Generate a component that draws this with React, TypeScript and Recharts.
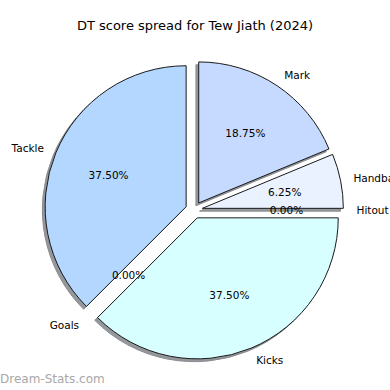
import React from "react";
import { PieChart, Pie, Cell } from "recharts";

const categories = ["Mark", "Handball", "Hitout", "Kicks", "Goals", "Tackle"];
const counts = [3, 1, 0, 6, 0, 6];
const colors = ["#c6d9ff", "#eaf2ff", "#dde9ff", "#d8ffff", "#c0dcff", "#b3d7ff"];

const data = categories.map((name, i) => ({ name, value: counts[i] }));

const CX = 194;
const CY = 210;
const R = 141;
const EXPLODE = 8.5;
const SHADOW = 2.8;
const RAD = Math.PI / 180;
const FONT = "'DejaVu Sans', sans-serif";

const total = counts.reduce((a, b) => a + b, 0);

// mid angle of each slice, clockwise from the top
const midAngles = counts.map((v, i) => {
  const before = counts.slice(0, i).reduce((a, b) => a + b, 0);
  return 90 - (360 * (before + v / 2)) / total;
});

const offsetFor = (i: number) => ({
  dx: EXPLODE * Math.cos(midAngles[i] * RAD),
  dy: -EXPLODE * Math.sin(midAngles[i] * RAD),
});

const renderLabel = (slice: number) => (props: any) => {
  if (props.index !== slice) return <g />;
  const { cx, cy, midAngle, percent, name } = props;
  const c = Math.cos(midAngle * RAD);
  const s = -Math.sin(midAngle * RAD);
  const lx = cx + 140 * 1.1 * c;
  const ly = cy + 140 * 1.1 * s;
  const px = cx + 140 * 0.6 * c;
  const py = cy + 140 * 0.6 * s;
  return (
    <g>
      <text
        x={lx}
        y={ly}
        textAnchor={c >= 0 ? "start" : "end"}
        dominantBaseline="central"
        fontSize={10.5}
        fontFamily={FONT}
        fill="#000"
      >
        {name}
      </text>
      <text
        x={px}
        y={py}
        textAnchor="middle"
        dominantBaseline="central"
        fontSize={10.5}
        fontFamily={FONT}
        fill="#000"
      >
        {(percent * 100).toFixed(2)}%
      </text>
    </g>
  );
};

export default function App() {
  return (
    <div style={{ position: "absolute", left: 0, top: 0, width: 390, height: 390, background: "#fff" }}>
      <div
        style={{
          position: "absolute",
          top: 18,
          width: 390,
          textAlign: "center",
          fontFamily: FONT,
          fontSize: 13,
          color: "#000",
        }}
      >
        DT score spread for Tew Jiath (2024)
      </div>
      <PieChart width={390} height={390} margin={{ top: 0, right: 0, bottom: 0, left: 0 }}>
        {categories.map((cat, i) => {
          const { dx, dy } = offsetFor(i);
          return (
            <Pie
              key={"shadow-" + cat}
              data={data}
              dataKey="value"
              nameKey="name"
              cx={CX + dx - SHADOW}
              cy={CY + dy + SHADOW}
              outerRadius={R}
              startAngle={90}
              endAngle={-270}
              isAnimationActive={false}
              labelLine={false}
            >
              {data.map((d, j) => (
                <Cell
                  key={d.name}
                  fill={j === i ? "#94979c" : "none"}
                  stroke={j === i ? "#8a8c90" : "none"}
                  strokeWidth={1}
                />
              ))}
            </Pie>
          );
        })}
        {categories.map((cat, i) => {
          const { dx, dy } = offsetFor(i);
          return (
            <Pie
              key={"slice-" + cat}
              data={data}
              dataKey="value"
              nameKey="name"
              cx={CX + dx}
              cy={CY + dy}
              outerRadius={R}
              startAngle={90}
              endAngle={-270}
              isAnimationActive={false}
              label={renderLabel(i)}
              labelLine={false}
            >
              {data.map((d, j) => (
                <Cell
                  key={d.name}
                  fill={j === i ? colors[i] : "none"}
                  stroke={j === i ? "#1a1a1a" : "none"}
                  strokeWidth={1}
                />
              ))}
            </Pie>
          );
        })}
      </PieChart>
      <div
        style={{
          position: "absolute",
          left: 0,
          top: 372,
          fontFamily: FONT,
          fontSize: 12,
          color: "#a8a8a8",
        }}
      >
        Dream-Stats.com
      </div>
    </div>
  );
}
